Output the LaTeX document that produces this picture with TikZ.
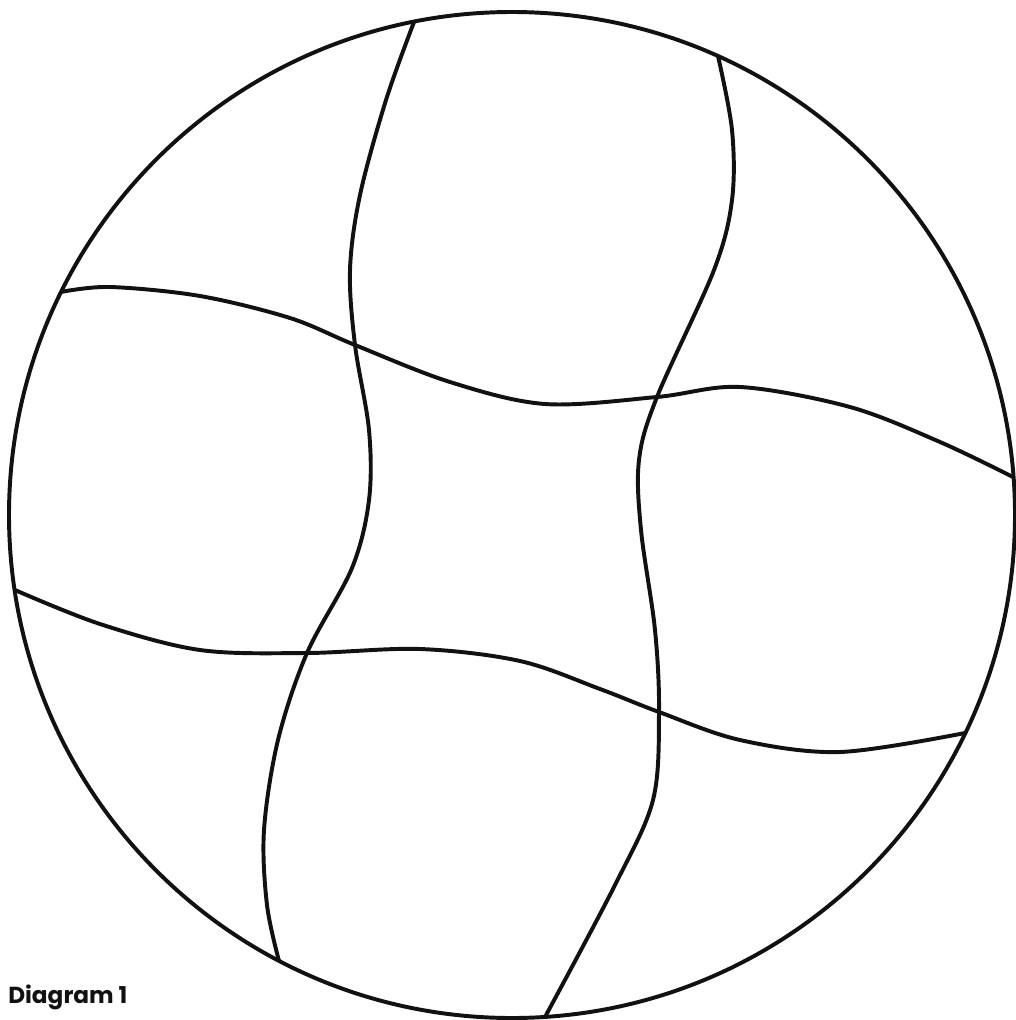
\documentclass[tikz,border=0pt]{standalone}
\usepackage{fontspec}
\setsansfont{Poppins}
\usepackage{xcolor}
\definecolor{cInk}{HTML}{111111}
\usepackage{tikz}
\usetikzlibrary{positioning,calc}
\tikzset{
  ink-rim/.style={draw=cInk,line width=2.8pt},
  ink-curve/.style={draw=cInk,line width=2.8pt,line cap=round,line join=round},
  label-text/.style={font=\sffamily\bfseries\fontsize{16.5}{20}\selectfont,text=cInk,inner sep=0pt},
}

\begin{document}
\begin{tikzpicture}[x=0.025cm,y=-0.025cm]
  \useasboundingbox (0,0) rectangle (1016,1020);
  \coordinate (centre) at (512,515);
  \draw[ink-rim] (centre) circle[radius=503];
  % the two strands running top to bottom
  \draw[ink-curve] plot[smooth,tension=0.55] coordinates {
    (414,22) (386,100) (360,195) (350,270) (355,345) (369,430) (369,500)
    (352,568) (307,653) (278,740) (264,830) (267,905) (279,961)};
  \draw[ink-curve] plot[smooth,tension=0.55] coordinates {
    (718,56) (732,130) (732,200) (714,270) (657,397)
    (639,460) (641,530) (655,630) (659,712) (653,800)
    (615,885) (545,1017)};
  % the two strands running left to right
  \draw[ink-curve] plot[smooth,tension=0.55] coordinates {
    (61,292) (110,287) (200,296) (290,318) (355,345) (450,382)
    (545,404) (657,397) (740,387) (850,407) (940,442) (1013,477)};
  \draw[ink-curve] plot[smooth,tension=0.55] coordinates {
    (15,590) (100,624) (200,650) (307,653) (420,649)
    (520,661) (600,689) (659,712) (740,740) (840,752) (965,733)};
  \node[label-text,anchor=base west] (caption) at (8,1003) {Diagram 1};
\end{tikzpicture}
\end{document}
